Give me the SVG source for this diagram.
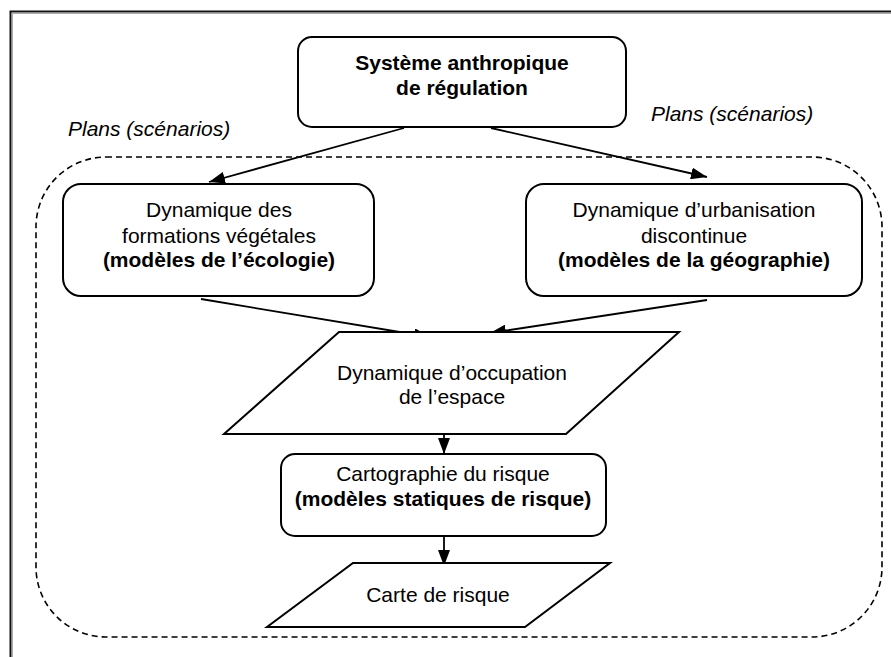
<svg xmlns="http://www.w3.org/2000/svg" width="891" height="657" viewBox="0 0 891 657">
  <style>
    .box { fill: #fff; stroke: #000; stroke-width: 2; }
    .t { font-family: "Liberation Sans", Arial, sans-serif; font-size: 21px; fill: #000; text-anchor: middle; }
    .b { font-weight: bold; }
    .i { font-style: italic; text-anchor: start; }
    .link { stroke: #000; stroke-width: 1.8; fill: none; marker-end: url(#head); }
  </style>
  <defs>
    <marker id="head" viewBox="0 0 16 12" refX="16" refY="6" markerWidth="16" markerHeight="12" markerUnits="userSpaceOnUse" orient="auto">
      <path d="M0,0 L16,6 L0,12 Z" fill="#000"/>
    </marker>
  </defs>
  <rect width="891" height="657" fill="#fff"/>

  <!-- page frame (open on the right and bottom) -->
  <g id="frame">
    <path d="M10.5,657 V11.5 H891" fill="none" stroke="#111" stroke-width="2"/>
    <path d="M12.5,657 V13.5 H891" fill="none" stroke="#aaa" stroke-width="1"/>
  </g>

  <!-- dashed boundary of the modelled territory -->
  <g id="boundary">
    <rect x="36" y="157" width="846" height="480" rx="70" ry="70" fill="none" stroke="#000" stroke-width="1.6" stroke-dasharray="6 4"/>
  </g>

  <g id="connectors">
    <line class="link" x1="404" y1="128" x2="209" y2="182"/>
    <line class="link" x1="491" y1="128" x2="707" y2="177"/>
    <line class="link" x1="201" y1="299" x2="430" y2="337"/>
    <line class="link" x1="707" y1="300" x2="490" y2="333"/>
    <line class="link" x1="444" y1="408" x2="444" y2="454"/>
    <line class="link" x1="444" y1="536" x2="444" y2="566"/>
  </g>

  <g id="plans-left">
    <text class="t i" x="68" y="136">Plans (scénarios)</text>
  </g>
  <g id="plans-right">
    <text class="t i" x="651" y="121">Plans (scénarios)</text>
  </g>

  <g id="systeme">
    <rect class="box" x="298" y="37" width="328" height="90" rx="14"/>
    <text class="t b" x="462" y="70">Système anthropique</text>
    <text class="t b" x="462" y="95">de régulation</text>
  </g>

  <g id="vegetation">
    <rect class="box" x="63" y="184" width="311" height="112" rx="18"/>
    <text class="t" x="219" y="217">Dynamique des</text>
    <text class="t" x="219" y="243">formations végétales</text>
    <text class="t b" x="219" y="267">(modèles de l’écologie)</text>
  </g>

  <g id="urbanisation">
    <rect class="box" x="526" y="184" width="336" height="112" rx="18"/>
    <text class="t" x="694" y="217">Dynamique d’urbanisation</text>
    <text class="t" x="694" y="243">discontinue</text>
    <text class="t b" x="694" y="267">(modèles de la géographie)</text>
  </g>

  <g id="occupation">
    <polygon class="box" points="339,332 679,332 566,434 224,434"/>
    <text class="t" x="452" y="380">Dynamique d’occupation</text>
    <text class="t" x="452" y="404">de l’espace</text>
  </g>

  <g id="cartographie">
    <rect class="box" x="281" y="454" width="325" height="82" rx="14"/>
    <text class="t" x="443" y="481">Cartographie du risque</text>
    <text class="t b" x="443" y="506">(modèles statiques de risque)</text>
  </g>

  <g id="carte">
    <polygon class="box" points="353,563 610,563 525,627 267,627"/>
    <text class="t" x="438" y="602">Carte de risque</text>
  </g>
</svg>
